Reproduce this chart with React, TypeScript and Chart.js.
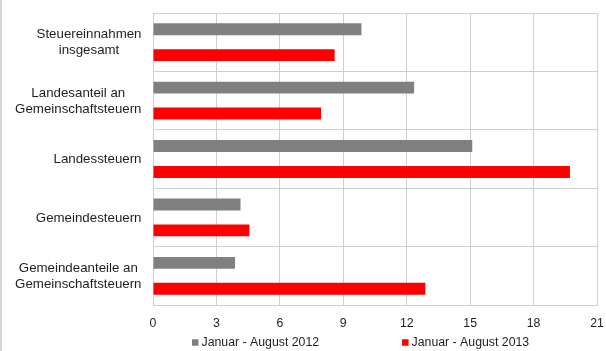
import React, { useEffect, useRef } from "react";
import { Chart, registerables } from "chart.js";

Chart.register(...registerables);

const categories: (string | string[])[] = [
  ["Steuereinnahmen", "insgesamt"],
  ["Landesanteil an", "Gemeinschaftsteuern"],
  "Landessteuern",
  "Gemeindesteuern",
  ["Gemeindeanteile an", "Gemeinschaftsteuern"],
];
const series2012 = [9.86, 12.35, 15.1, 4.14, 3.88];
const series2013 = [8.59, 7.95, 19.72, 4.56, 12.88];
const seriesLabels = ["Januar - August 2012", "Januar - August 2013"];
const seriesColors = ["#808080", "#ff0000"];
const xMin = 0;
const xMax = 21;
const xStep = 3;

const FONT = '"Liberation Sans", Arial, Helvetica, sans-serif';
const TEXT = "#1e1e1e";
const GRID = "#cfcfcf";

const yLabelPlugin = {
  id: "yLabels",
  afterDraw(chart: any) {
    const ctx = chart.ctx;
    const area = chart.chartArea;
    const y = chart.scales.y;
    ctx.save();
    ctx.font = `13.3px ${FONT}`;
    ctx.fillStyle = TEXT;
    ctx.textAlign = "center";
    ctx.textBaseline = "middle";
    const lineH = 16;
    (chart.data.labels as any[]).forEach((lab, i) => {
      const lines: string[] = Array.isArray(lab) ? lab : [lab];
      const maxW = Math.max(...lines.map((l) => ctx.measureText(l).width));
      const cx = area.left - 11.5 - maxW / 2;
      const cy = y.getPixelForValue(i) + 0.5;
      lines.forEach((l, j) => {
        ctx.fillText(l, cx, cy + (j - (lines.length - 1) / 2) * lineH);
      });
    });
    ctx.restore();
  },
};

const legendPlugin = {
  id: "customLegend",
  afterDraw(chart: any) {
    const ctx = chart.ctx;
    const area = chart.chartArea;
    ctx.save();
    ctx.font = `12.3px ${FONT}`;
    ctx.textBaseline = "middle";
    ctx.textAlign = "left";
    const box = 6.5;
    const gapBoxText = 3;
    const itemGap = 83;
    let x = area.left + 39;
    const cy = 342.5;
    chart.data.datasets.forEach((ds: any) => {
      ctx.fillStyle = ds.backgroundColor;
      ctx.fillRect(x, cy - box / 2, box, box);
      ctx.fillStyle = TEXT;
      const tx = x + box + gapBoxText;
      ctx.fillText(ds.label, tx, cy);
      x = tx + ctx.measureText(ds.label).width + itemGap;
    });
    ctx.restore();
  },
};

const framePlugin = {
  id: "frame",
  beforeDraw(chart: any) {
    const ctx = chart.ctx;
    ctx.save();
    ctx.fillStyle = "#d6d6d6";
    ctx.fillRect(0, 0, 2, chart.height);
    ctx.restore();
  },
};

export default function App() {
  const ref = useRef<HTMLCanvasElement>(null);
  useEffect(() => {
    if (!ref.current) return;
    const chart = new Chart(ref.current, {
      type: "bar",
      data: {
        labels: categories as any,
        datasets: [
          {
            label: seriesLabels[0],
            data: series2012,
            backgroundColor: seriesColors[0],
            categoryPercentage: 0.886,
            barPercentage: 0.46,
          },
          {
            label: seriesLabels[1],
            data: series2013,
            backgroundColor: seriesColors[1],
            categoryPercentage: 0.886,
            barPercentage: 0.46,
          },
        ],
      },
      options: {
        indexAxis: "y",
        animation: false,
        responsive: true,
        maintainAspectRatio: false,
        layout: { padding: { top: 13, right: 9, bottom: 0, left: 0 } },
        plugins: {
          legend: { display: false },
          tooltip: { enabled: false },
        },
        scales: {
          x: {
            type: "linear",
            position: "bottom",
            min: xMin,
            max: xMax,
            ticks: {
              stepSize: xStep,
              color: TEXT,
              font: { family: FONT, size: 12.3 },
              padding: 11.5,
            },
            grid: { color: GRID, drawTicks: false },
            border: { color: GRID },
            afterFit: (s: any) => {
              s.height = 46;
              s.paddingLeft = 0;
              s.paddingRight = 0;
            },
          },
          y: {
            type: "category",
            position: "left",
            ticks: { display: false },
            grid: { color: GRID, offset: true, drawTicks: false },
            border: { color: GRID },
            afterFit: (s: any) => {
              s.width = 153;
            },
          },
        },
      },
      plugins: [framePlugin, yLabelPlugin, legendPlugin],
    });
    return () => chart.destroy();
  }, []);
  return (
    <div style={{ position: "fixed", left: 0, top: 0, width: 606, height: 351, background: "#fff" }}>
      <canvas ref={ref} />
    </div>
  );
}
